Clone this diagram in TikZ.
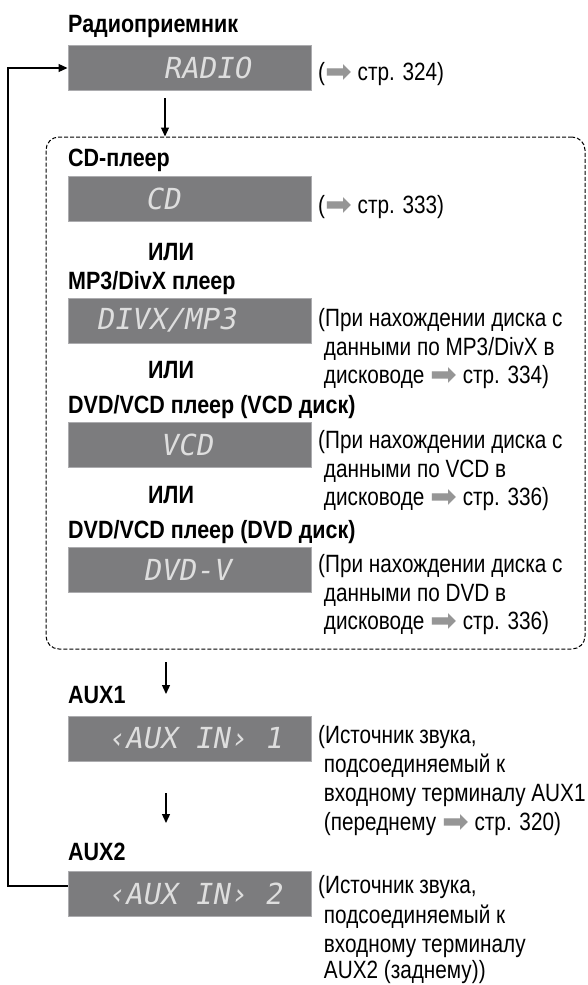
\documentclass[tikz,border=0pt]{standalone}
\usepackage{fontspec}
\setmainfont{Liberation Sans}[FakeStretch=0.83, BoldFeatures={FakeStretch=0.86}]
\newfontfamily\symfont{DejaVu Sans}
\newfontfamily\lcdfont{DejaVu Sans Mono}[FakeSlant=0.18]
\usetikzlibrary{arrows.meta}
\definecolor{lcdbg}{RGB}{124,124,126}
\definecolor{lcdedge}{RGB}{172,172,175}
\definecolor{lcdtxt}{RGB}{222,222,222}
\definecolor{refgray}{RGB}{150,150,150}
\newcommand{\ra}{\raisebox{-2.5pt}{\symfont\fontsize{32}{32}\selectfont\color{refgray}\char"27A1}}
\tikzset{
  lbl/.style={anchor=base west, inner sep=0pt, font=\fontsize{25}{30}\selectfont\bfseries},
  orl/.style={anchor=base, inner sep=0pt, font=\fontsize{25}{30}\selectfont\bfseries},
  txt/.style={anchor=base west, inner sep=0pt, font=\fontsize{25}{30}\selectfont},
  lcd/.style={draw=lcdedge, fill=lcdbg, line width=1pt, minimum width=243pt, minimum height=45pt, inner sep=0pt},
  lcdt/.style={anchor=west, inner sep=0pt, text=lcdtxt, font=\lcdfont\fontsize{29}{29}\selectfont},
  conn/.style={line width=1.3pt, -{Triangle[length=9pt,width=8pt]}},
  grp/.style={draw, dash pattern=on 4pt off 2pt, line width=1pt, rounded corners=13pt, inner sep=0pt},
}
\begin{document}
\begin{tikzpicture}[x=1pt,y=-1pt]
\useasboundingbox (0,0) rectangle (587,985);

% Radio
\node[lbl] (l0) at (68,32) {Радиоприемник};
\node[lcd] (radio) at (189.5,68) {};
\node[lcdt] (radiot) at (163,68) {RADIO};
\node[txt] (r0) at (318,80) {(\ra\ стр. 324)};

% group
\node[grp, minimum width=539pt, minimum height=512pt] (group) at (315.5,393) {};

\node[lbl] (l1) at (68,166) {CD-плеер};
\node[lcd] (cd) at (189.5,198.5) {};
\node[lcdt] (cdt) at (145,198.5) {CD};
\node[txt] (r1) at (318,213) {(\ra\ стр. 333)};
\node[orl] (or1) at (171,260) {ИЛИ};

\node[lbl] (l2) at (68,289) {MP3/DivX плеер};
\node[lcd] (divx) at (189.5,320.5) {};
\node[lcdt] (divxt) at (96,320.5) {DIVX/MP3};
\node[txt] (r2a) at (318,326) {(При нахождении диска с};
\node[txt] (r2b) at (318,355) {\ данными по MP3/DivX в};
\node[txt] (r2c) at (318,383) {\ дисководе \ra\ стр. 334)};
\node[orl] (or2) at (171,378) {ИЛИ};

\node[lbl] (l3) at (68,413) {DVD/VCD плеер (VCD диск)};
\node[lcd] (vcd) at (189.5,445) {};
\node[lcdt] (vcdt) at (160,445) {VCD};
\node[txt] (r3a) at (318,448) {(При нахождении диска с};
\node[txt] (r3b) at (318,477) {\ данными по VCD в};
\node[txt] (r3c) at (318,505) {\ дисководе \ra\ стр. 336)};
\node[orl] (or3) at (171,503) {ИЛИ};

\node[lbl] (l4) at (68,538) {DVD/VCD плеер (DVD диск)};
\node[lcd] (dvd) at (189.5,569.5) {};
\node[lcdt] (dvdt) at (143,569.5) {DVD-V};
\node[txt] (r4a) at (318,572) {(При нахождении диска с};
\node[txt] (r4b) at (318,601) {\ данными по DVD в};
\node[txt] (r4c) at (318,629) {\ дисководе \ra\ стр. 336)};

% AUX1
\node[lbl] (l5) at (68,703) {AUX1};
\node[lcd] (aux1) at (189.5,738.5) {};
\node[lcdt] (aux1t) at (107,738.5) {‹AUX IN› 1};
\node[txt] (r5a) at (318,743) {(Источник звука,};
\node[txt] (r5b) at (318,772) {\ подсоединяемый к};
\node[txt] (r5c) at (318,801) {\ входному терминалу AUX1};
\node[txt] (r5d) at (318,830) {\ (переднему \ra\ стр. 320)};

% AUX2
\node[lbl] (l6) at (68,860) {AUX2};
\node[lcd] (aux2) at (189.5,894) {};
\node[lcdt] (aux2t) at (107,894) {‹AUX IN› 2};
\node[txt] (r6a) at (318,893) {(Источник звука,};
\node[txt] (r6b) at (318,923) {\ подсоединяемый к};
\node[txt] (r6c) at (318,952) {\ входному терминалу};
\node[txt] (r6d) at (318,978) {\ AUX2 (заднему))};

% connectors
\coordinate (a1s) at (165,98);
\draw[conn] (a1s) -- (a1s |- group.north);
\coordinate (a2s) at (166,662);
\coordinate (a2e) at (166,694);
\draw[conn] (a2s) -- (a2e);
\coordinate (a3s) at (166,793);
\coordinate (a3e) at (166,823);
\draw[conn] (a3s) -- (a3e);
\coordinate (lpb) at (8,886);
\coordinate (lpt) at (8,68);
\draw[conn] (aux2.west |- lpb) -- (lpb) -- (lpt) -- (radio.west);
\end{tikzpicture}
\end{document}
